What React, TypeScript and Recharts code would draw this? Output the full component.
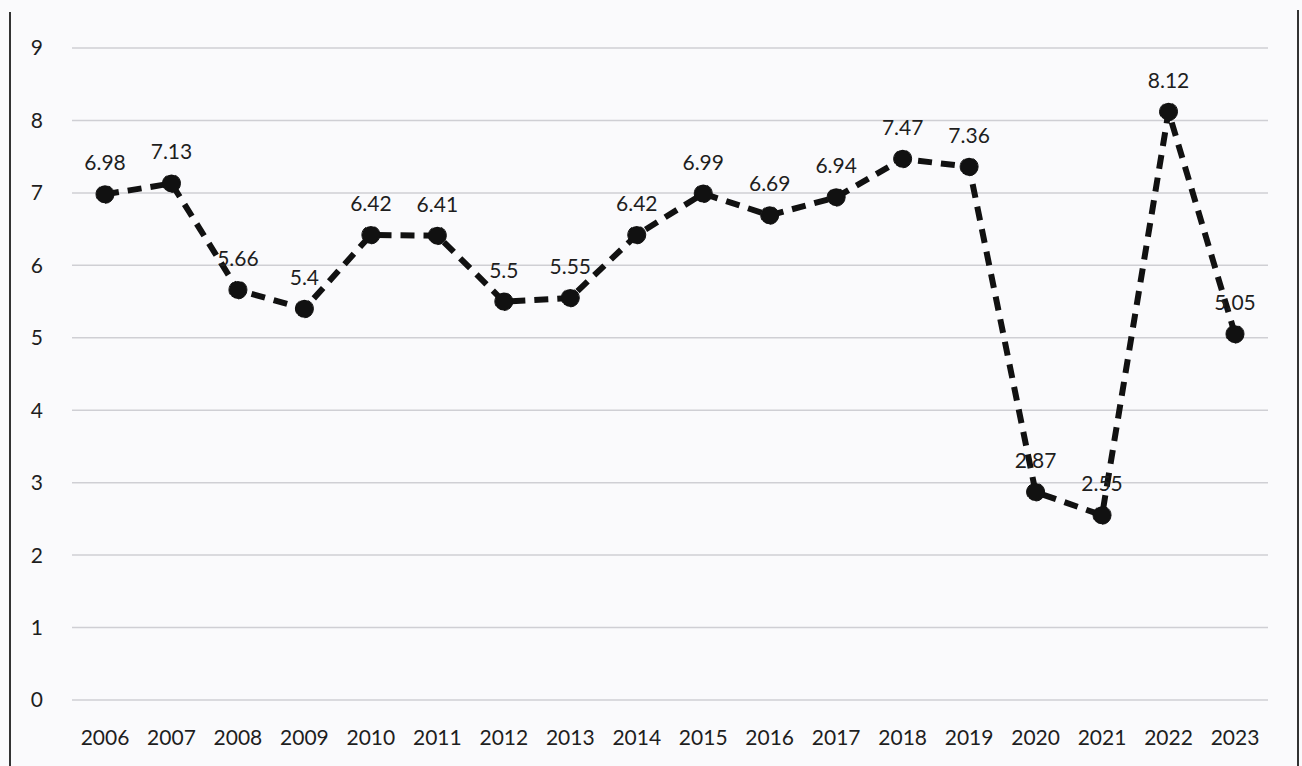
import { LineChart, Line, XAxis, YAxis, CartesianGrid, LabelList } from 'recharts';

const years = ['2006', '2007', '2008', '2009', '2010', '2011', '2012', '2013', '2014', '2015', '2016', '2017', '2018', '2019', '2020', '2021', '2022', '2023'];
const rates = [6.98, 7.13, 5.66, 5.4, 6.42, 6.41, 5.5, 5.55, 6.42, 6.99, 6.69, 6.94, 7.47, 7.36, 2.87, 2.55, 8.12, 5.05];
const yTicks = [0, 1, 2, 3, 4, 5, 6, 7, 8, 9];

const data = years.map((year, i) => ({ year, rate: rates[i] }));

const font = 'Lato, "Open Sans", sans-serif';
const textStyle = { fill: '#1e1e1e', fontSize: 21, fontFamily: font };

export default function App() {
  return (
    <div style={{ position: 'absolute', left: 0, top: 0, width: 1302, height: 766, background: '#fafafc', fontFamily: font }}>
      {/* frame edges */}
      <div style={{ position: 'absolute', left: 9, top: 12, width: 2, height: 754, background: '#333' }} />
      <div style={{ position: 'absolute', left: 1297, top: 10, width: 2, height: 756, background: '#333' }} />
      <LineChart width={1302} height={766} data={data} margin={{ top: 48, right: 34, bottom: 26, left: 0 }}>
        <CartesianGrid vertical={false} stroke="#cfcfd4" strokeWidth={1.5} />
        <XAxis
          dataKey="year"
          axisLine={false}
          tickLine={false}
          height={40}
          tickMargin={24}
          interval={0}
          padding={{ left: 33, right: 33 }}
          tick={textStyle}
        />
        <YAxis
          domain={[0, 9]}
          ticks={yTicks}
          axisLine={false}
          tickLine={false}
          width={72}
          tickMargin={23}
          tick={textStyle}
        />
        <Line
          type="linear"
          dataKey="rate"
          stroke="#111"
          strokeWidth={6}
          strokeDasharray="14 9"
          dot={{ r: 9, fill: '#111', stroke: '#111', strokeWidth: 1 }}
          isAnimationActive={false}
        >
          <LabelList dataKey="rate" position="top" offset={24} style={textStyle} />
        </Line>
      </LineChart>
    </div>
  );
}
